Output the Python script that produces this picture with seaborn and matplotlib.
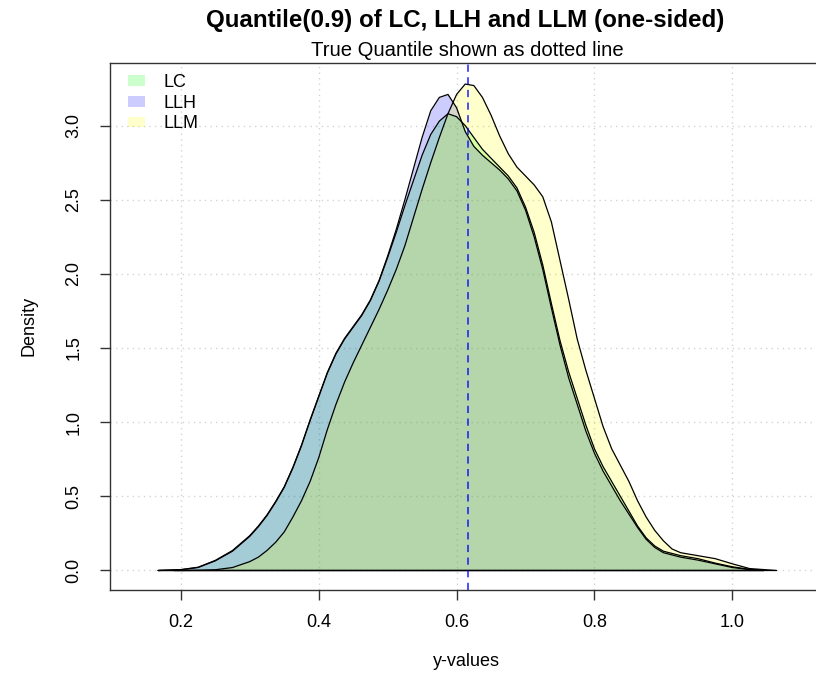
import matplotlib
matplotlib.use("Agg")
import matplotlib.pyplot as plt
import matplotlib.patches as mpatches
import seaborn as sns

# density curves (x = y-values, y = density)
lc_x = [0.167, 0.2, 0.225, 0.25, 0.275, 0.3, 0.3125, 0.325, 0.3375, 0.35, 0.3625, 0.375, 0.3875,
        0.4, 0.4125, 0.425, 0.4375, 0.45, 0.4625, 0.475, 0.4875, 0.5, 0.5125, 0.525, 0.5375,
        0.55, 0.5625, 0.575, 0.5875, 0.6, 0.6125, 0.625, 0.6375, 0.65, 0.6625, 0.675, 0.6875,
        0.7, 0.7125, 0.725, 0.7375, 0.75, 0.7625, 0.775, 0.7875, 0.8, 0.8125, 0.825, 0.8375,
        0.85, 0.8625, 0.875, 0.8875, 0.9, 0.925, 0.95, 0.975, 1.0, 1.025, 1.045]
lc_y = [0, 0.005, 0.02, 0.065, 0.13, 0.23, 0.295, 0.37, 0.46, 0.56, 0.69, 0.84, 1.01,
        1.17, 1.33, 1.46, 1.56, 1.64, 1.72, 1.82, 1.95, 2.11, 2.28, 2.46, 2.63,
        2.80, 2.94, 3.03, 3.08, 3.06, 3.00, 2.92, 2.84, 2.78, 2.72, 2.66, 2.58,
        2.45, 2.28, 2.06, 1.80, 1.55, 1.34, 1.16, 0.98, 0.82, 0.70, 0.60, 0.50,
        0.40, 0.30, 0.22, 0.165, 0.13, 0.10, 0.08, 0.05, 0.025, 0.008, 0]

llh_x = lc_x
llh_y = [0, 0.006, 0.022, 0.068, 0.135, 0.235, 0.30, 0.375, 0.465, 0.565, 0.695, 0.845, 1.015,
         1.175, 1.335, 1.465, 1.565, 1.645, 1.725, 1.825, 1.955, 2.12, 2.30, 2.50, 2.71,
         2.92, 3.10, 3.19, 3.21, 3.12, 2.96, 2.86, 2.80, 2.75, 2.70, 2.64, 2.56,
         2.43, 2.25, 2.03, 1.77, 1.52, 1.30, 1.12, 0.94, 0.79, 0.67, 0.57, 0.47,
         0.38, 0.29, 0.21, 0.155, 0.12, 0.09, 0.07, 0.045, 0.02, 0.006, 0]

llm_x = [0.19, 0.225, 0.25, 0.275, 0.3, 0.3125, 0.325, 0.3375, 0.35, 0.3625, 0.375, 0.3875,
         0.4, 0.4125, 0.425, 0.4375, 0.45, 0.4625, 0.475, 0.4875, 0.5, 0.5125, 0.525, 0.5375,
         0.55, 0.5625, 0.575, 0.5875, 0.6, 0.6125, 0.625, 0.6375, 0.65, 0.6625, 0.675, 0.6875,
         0.7, 0.7125, 0.725, 0.7375, 0.75, 0.7625, 0.775, 0.7875, 0.8, 0.8125, 0.825, 0.8375,
         0.85, 0.8625, 0.875, 0.8875, 0.9, 0.9125, 0.925, 0.95, 0.975, 1.0, 1.025, 1.064]
llm_y = [0, 0.001, 0.005, 0.02, 0.06, 0.09, 0.135, 0.19, 0.26, 0.36, 0.47, 0.60,
         0.76, 0.95, 1.12, 1.27, 1.40, 1.52, 1.64, 1.76, 1.89, 2.03, 2.19, 2.38,
         2.57, 2.75, 2.92, 3.08, 3.21, 3.28, 3.27, 3.19, 3.07, 2.93, 2.81, 2.72,
         2.66, 2.60, 2.52, 2.35, 2.09, 1.83, 1.56, 1.35, 1.16, 0.97, 0.82, 0.71,
         0.60, 0.47, 0.36, 0.27, 0.20, 0.145, 0.12, 0.10, 0.08, 0.045, 0.013, 0]

true_q = 0.617

series = [("LC", lc_x, lc_y, (0, 1, 0, 0.2)),
          ("LLH", llh_x, llh_y, (0, 0, 1, 0.2)),
          ("LLM", llm_x, llm_y, (1, 1, 0, 0.2))]

sns.set_theme(style="white")
plt.rcParams['font.family'] = ['Liberation Sans', 'DejaVu Sans']
plt.rcParams['text.color'] = 'black'
plt.rcParams['axes.labelcolor'] = 'black'
plt.rcParams['xtick.color'] = 'black'
plt.rcParams['ytick.color'] = 'black'

fig = plt.figure(figsize=(8.16, 6.77), dpi=100)
ax = fig.add_axes([110 / 816, 1 - 590 / 677, 712 / 816, (590 - 62.7) / 677])

ax.grid(True, ls=(0, (1, 3)), color='lightgray', lw=1)
ax.set_axisbelow(True)

for name, xs, ys, col in series:
    ax.fill_between(xs, ys, color=col, lw=0)
    sns.lineplot(x=xs, y=ys, color='black', lw=0.9, ax=ax, sort=False, estimator=None)
    ax.plot([xs[0], xs[-1]], [0, 0], color='black', lw=0.9)

ax.axvline(true_q, color='blue', ls=(0, (4, 3)), lw=1.3, alpha=0.75)

ax.set_xlim(0.0973, 1.13)
ax.set_ylim(-0.1315, 3.424)
ax.set_xticks([0.2, 0.4, 0.6, 0.8, 1.0])
ax.set_yticks([0.0, 0.5, 1.0, 1.5, 2.0, 2.5, 3.0])
ax.set_xticklabels(['0.2', '0.4', '0.6', '0.8', '1.0'])
ax.set_yticklabels(['0.0', '0.5', '1.0', '1.5', '2.0', '2.5', '3.0'], rotation=90, va='center')
ax.tick_params(axis='both', direction='out', length=7, width=1, color='#333333',
               labelsize=13, bottom=True, left=True)
ax.tick_params(axis='x', pad=10)
ax.tick_params(axis='y', pad=13)
for s in ['left', 'bottom', 'top']:
    ax.spines[s].set_color('#333333')
    ax.spines[s].set_linewidth(1)
ax.spines['right'].set_visible(False)

ax.set_xlabel('y-values', fontsize=13, labelpad=16)
ax.set_ylabel('Density', fontsize=13, labelpad=20)

handles = [mpatches.Patch(facecolor=col, edgecolor='none', label=name) for name, _, _, col in series]
ax.legend(handles=handles, loc='upper left', frameon=False, fontsize=13,
          handlelength=0.9, handleheight=0.55, handletextpad=1.05, labelspacing=0.2,
          borderaxespad=0, bbox_to_anchor=(0.0155, 0.992))

fig.text(465 / 816, 1 - 21 / 677, 'Quantile(0.9) of LC, LLH and LLM (one-sided)',
         ha='center', va='center', fontsize=17.4, fontweight='bold')
fig.text(467 / 816, 1 - 51 / 677, 'True Quantile shown as dotted line',
         ha='center', va='center', fontsize=14.6)

fig.savefig('out.png', dpi=100)
